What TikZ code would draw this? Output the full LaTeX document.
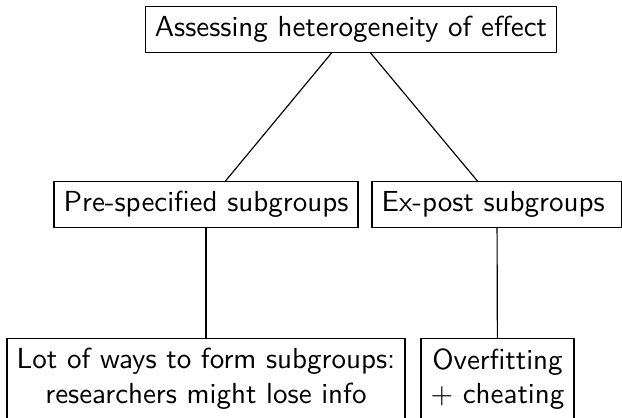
\documentclass[tikz,border=0pt]{standalone}
\begin{document}
\begin{tikzpicture}[x=0.3448pt,y=0.3448pt,
  box/.style={draw, line width=0.4pt, font=\sffamily, align=center},
  edge/.style={line width=0.4pt}]
\clip (0,0) rectangle (622,-418);
\useasboundingbox (0,0) rectangle (622,-418);
\node[box] (root) at (351,-29.5) {Assessing heterogeneity of effect};
\node[box] (pre) at (206,-204.5) {Pre-specified subgroups};
\node[box, text width=79.5pt, align=left] (ex) at (497,-204.5) {Ex-post subgroups};
\node[box, anchor=north] (lot) at (206,-338) {Lot of ways to form subgroups:\\researchers might lose info};
\node[box, anchor=north] (over) at (497.5,-338) {Overfitting\\$+$ cheating};
\draw[edge] (root) -- (pre);
\draw[edge] (root) -- (ex);
\draw[edge] (pre) -- (lot);
\draw[edge] (ex) -- (over);
\end{tikzpicture}
\end{document}
